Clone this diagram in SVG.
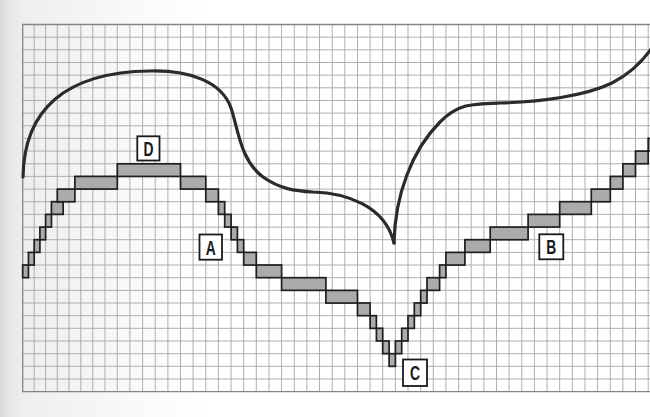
<svg xmlns="http://www.w3.org/2000/svg" width="650" height="417" viewBox="0 0 650 417">
<defs>
<linearGradient id="page" x1="0" y1="0" x2="650" y2="0" gradientUnits="userSpaceOnUse">
<stop offset="0" stop-color="#d9d9d9"/>
<stop offset="0.012" stop-color="#e6e6e6"/>
<stop offset="0.035" stop-color="#eeeeee"/>
<stop offset="0.2" stop-color="#f9f9f9"/>
<stop offset="0.32" stop-color="#ffffff"/>
</linearGradient>
<style>
.grid{fill:none;stroke:#a6a6a6;stroke-width:0.9}
.border{fill:none;stroke:#858585;stroke-width:1.3}
.bar{fill:#ababab;stroke:#1e1e1e;stroke-width:1.7}
.curve{fill:none;stroke:#2b2b2b;stroke-width:3.2;stroke-linecap:round;stroke-linejoin:round}
.box{fill:#ffffff;stroke:#1a1a1a;stroke-width:1.8}
.lbl{font-family:"Liberation Sans",Arial,sans-serif;font-size:21px;font-weight:bold;fill:#1a1a1a;text-anchor:middle}
</style>
</defs>
<rect x="0" y="0" width="650" height="417" fill="url(#page)"/>
<g id="grid">
<path class="grid" d="M34.2 24.5V391.6M45.6 24.5V391.6M57.3 24.5V391.6M69 24.5V391.6M80.8 24.5V391.6M92.8 24.5V391.6M105 24.5V391.6M117.3 24.5V391.6M129.9 24.5V391.6M142.6 24.5V391.6M155.2 24.5V391.6M167.9 24.5V391.6M180.5 24.5V391.6M193.1 24.5V391.6M205.8 24.5V391.6M218.4 24.5V391.6M231.1 24.5V391.6M243.7 24.5V391.6M256.3 24.5V391.6M269 24.5V391.6M281.6 24.5V391.6M294.3 24.5V391.6M306.9 24.5V391.6M319.5 24.5V391.6M332.2 24.5V391.6M344.8 24.5V391.6M357.5 24.5V391.6M370.1 24.5V391.6M382.7 24.5V391.6M395.4 24.5V391.6M408 24.5V391.6M420.7 24.5V391.6M433.3 24.5V391.6M445.9 24.5V391.6M458.6 24.5V391.6M471.2 24.5V391.6M483.9 24.5V391.6M496.5 24.5V391.6M509.1 24.5V391.6M521.8 24.5V391.6M534.4 24.5V391.6M547.1 24.5V391.6M559.7 24.5V391.6M572.3 24.5V391.6M585 24.5V391.6M597.6 24.5V391.6M610.3 24.5V391.6M622.9 24.5V391.6M635.5 24.5V391.6M648.2 24.5V391.6"/>
<path class="grid" d="M22.7 37.2H650M22.7 49.8H650M22.7 62.5H650M22.7 75.1H650M22.7 87.8H650M22.7 100.5H650M22.7 113.1H650M22.7 125.8H650M22.7 138.4H650M22.7 151.1H650M22.7 163.8H650M22.7 176.4H650M22.7 189.1H650M22.7 201.7H650M22.7 214.4H650M22.7 227.1H650M22.7 239.7H650M22.7 252.4H650M22.7 265H650M22.7 277.7H650M22.7 290.4H650M22.7 303H650M22.7 315.7H650M22.7 328.3H650M22.7 341H650M22.7 353.7H650M22.7 366.3H650M22.7 379H650"/>
<path class="border" d="M650 24.5H22.7V391.6H650"/>
</g>
<g id="bars">
<rect class="bar" x="22.7" y="265" width="5.75" height="12.66"/>
<rect class="bar" x="28.45" y="252.4" width="5.75" height="12.66"/>
<rect class="bar" x="34.2" y="239.7" width="5.7" height="12.66"/>
<rect class="bar" x="39.9" y="227.1" width="5.7" height="12.66"/>
<rect class="bar" x="45.6" y="214.4" width="5.85" height="12.66"/>
<rect class="bar" x="51.45" y="201.7" width="11.7" height="12.66"/>
<rect class="bar" x="57.3" y="189.1" width="17.6" height="12.66"/>
<rect class="bar" x="74.9" y="176.4" width="42.4" height="12.66"/>
<rect class="bar" x="117.3" y="163.8" width="63.2" height="12.66"/>
<rect class="bar" x="180.5" y="176.4" width="25.3" height="12.66"/>
<rect class="bar" x="205.8" y="189.1" width="12.6" height="12.66"/>
<rect class="bar" x="218.4" y="201.7" width="6.3" height="12.66"/>
<rect class="bar" x="224.7" y="214.4" width="6.4" height="12.66"/>
<rect class="bar" x="231.1" y="227.1" width="6.3" height="12.66"/>
<rect class="bar" x="237.4" y="239.7" width="6.3" height="12.66"/>
<rect class="bar" x="243.7" y="252.4" width="12.6" height="12.66"/>
<rect class="bar" x="256.3" y="265" width="25.3" height="12.66"/>
<rect class="bar" x="281.6" y="277.7" width="44.3" height="12.66"/>
<rect class="bar" x="325.9" y="290.4" width="31.6" height="12.66"/>
<rect class="bar" x="357.5" y="303" width="12.6" height="12.66"/>
<rect class="bar" x="370.1" y="315.7" width="6.3" height="12.66"/>
<rect class="bar" x="376.4" y="328.3" width="6.3" height="12.66"/>
<rect class="bar" x="382.7" y="341" width="6.4" height="12.66"/>
<rect class="bar" x="389.1" y="353.7" width="6.3" height="12.66"/>
<rect class="bar" x="395.4" y="341" width="6.3" height="12.66"/>
<rect class="bar" x="401.7" y="328.3" width="6.3" height="12.66"/>
<rect class="bar" x="408" y="315.7" width="6.35" height="12.66"/>
<rect class="bar" x="414.3" y="303" width="6.4" height="12.66"/>
<rect class="bar" x="420.7" y="290.4" width="6.3" height="12.66"/>
<rect class="bar" x="427" y="277.7" width="12.6" height="12.66"/>
<rect class="bar" x="439.6" y="265" width="6.3" height="12.66"/>
<rect class="bar" x="445.9" y="252.4" width="19" height="12.66"/>
<rect class="bar" x="464.9" y="239.7" width="25.3" height="12.66"/>
<rect class="bar" x="490.2" y="227.1" width="37.9" height="12.66"/>
<rect class="bar" x="528.1" y="214.4" width="31.6" height="12.66"/>
<rect class="bar" x="559.7" y="201.7" width="31.6" height="12.66"/>
<rect class="bar" x="591.3" y="189.1" width="19" height="12.66"/>
<rect class="bar" x="610.3" y="176.4" width="12.6" height="12.66"/>
<rect class="bar" x="622.9" y="163.8" width="12.6" height="12.66"/>
<rect class="bar" x="635.5" y="151.1" width="12.7" height="12.66"/>
<rect class="bar" x="648.2" y="138.4" width="12.6" height="12.66"/>
</g>
<g id="curves">
<path class="curve" d="M23 177C24 110 65 72 150 71C190 70 222 82 231 108C238 128 240 160 263 177C280 189 295 191 313 192C345 193 385 205 394 243"/>
<path class="curve" d="M394 243C395 195 412 150 440 122C458 104 470 104 500 103C540 102 585 96 612 83C630 74 642 62 652 48"/>
</g>
<g id="label-D">
<rect class="box" x="137.3" y="136.3" width="22.2" height="24.2"/>
<text class="lbl" transform="translate(148.4 155.9) scale(0.66 1)">D</text>
</g>
<g id="label-A">
<rect class="box" x="199.5" y="234.5" width="22.5" height="25.2"/>
<text class="lbl" transform="translate(210.8 254.6) scale(0.66 1)">A</text>
</g>
<g id="label-B">
<rect class="box" x="539.3" y="234.3" width="24" height="25"/>
<text class="lbl" transform="translate(551.3 254.3) scale(0.66 1)">B</text>
</g>
<g id="label-C">
<rect class="box" x="403" y="359.5" width="24" height="26.5"/>
<text class="lbl" transform="translate(415 380.3) scale(0.66 1)">C</text>
</g>
</svg>
